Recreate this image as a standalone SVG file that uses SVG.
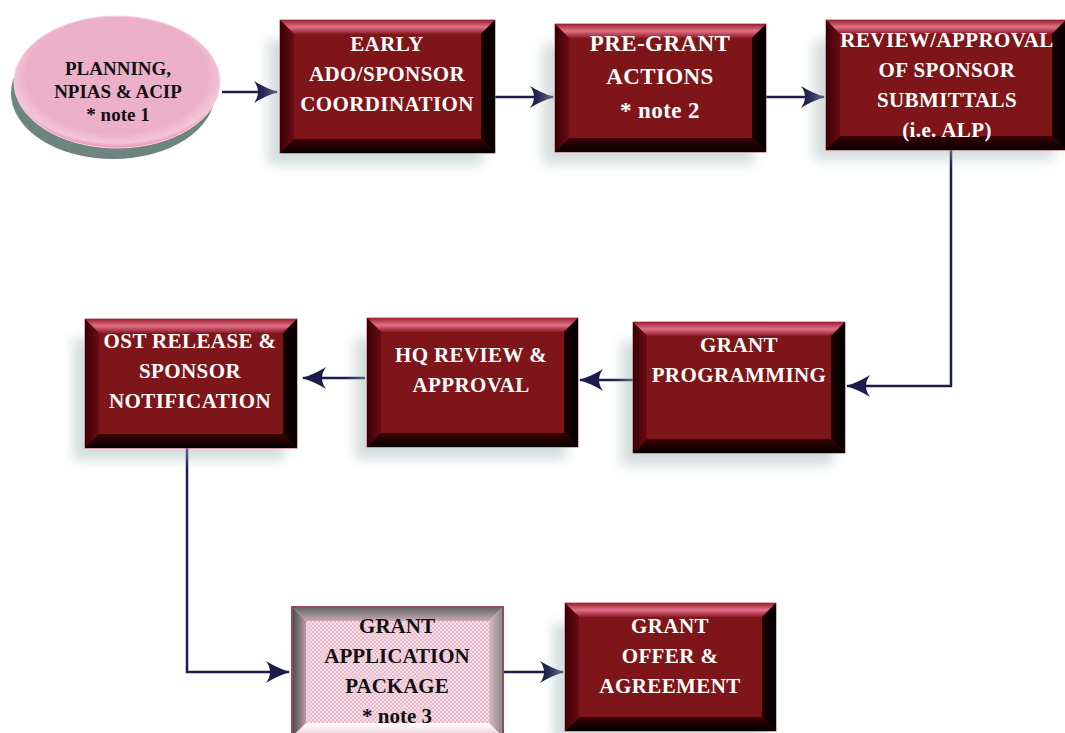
<svg xmlns="http://www.w3.org/2000/svg" width="1065" height="733" viewBox="0 0 1065 733">
<defs>
<linearGradient id="gTop" x1="0" y1="0" x2="0" y2="1">
<stop offset="0" stop-color="#9a2030"/><stop offset="0.5" stop-color="#e27088"/><stop offset="1" stop-color="#8c1a26"/>
</linearGradient>
<linearGradient id="gLeft" x1="0" y1="0" x2="1" y2="0">
<stop offset="0" stop-color="#3a0006"/><stop offset="1" stop-color="#6a0c14"/>
</linearGradient>
<linearGradient id="gRight" x1="0" y1="0" x2="1" y2="0">
<stop offset="0" stop-color="#1a0000"/><stop offset="1" stop-color="#000000"/>
</linearGradient>
<linearGradient id="gBot" x1="0" y1="0" x2="0" y2="1">
<stop offset="0" stop-color="#3a0006"/><stop offset="1" stop-color="#050000"/>
</linearGradient>
<linearGradient id="pTop" x1="0" y1="0" x2="0" y2="1">
<stop offset="0" stop-color="#6a6a6a"/><stop offset="1" stop-color="#c8a8b4"/>
</linearGradient>
<linearGradient id="pLeft" x1="0" y1="0" x2="1" y2="0">
<stop offset="0" stop-color="#505050"/><stop offset="1" stop-color="#b89aa6"/>
</linearGradient>
<linearGradient id="pRight" x1="0" y1="0" x2="1" y2="0">
<stop offset="0" stop-color="#d8b8c4"/><stop offset="1" stop-color="#8a8a8a"/>
</linearGradient>
<linearGradient id="pBot" x1="0" y1="0" x2="0" y2="1">
<stop offset="0" stop-color="#ffffff"/><stop offset="1" stop-color="#f0d0dc"/>
</linearGradient>
<pattern id="dots" width="4" height="4" patternUnits="userSpaceOnUse">
<rect width="4" height="4" fill="#f6dce6"/>
<circle cx="1" cy="1" r="1" fill="#e6b2c6"/>
<circle cx="3" cy="3" r="1" fill="#e6b2c6"/>
</pattern>
<radialGradient id="ellG" cx="0.5" cy="0.45" r="0.55">
<stop offset="0.8" stop-color="#ecb0c9"/><stop offset="0.93" stop-color="#f3c6d6"/><stop offset="1" stop-color="#f08cb0"/>
</radialGradient>
<filter id="blur" x="-20%" y="-20%" width="140%" height="140%"><feGaussianBlur stdDeviation="6"/></filter>
<marker id="arr" viewBox="0 0 24 24" refX="23" refY="12" markerWidth="24" markerHeight="24" markerUnits="userSpaceOnUse" orient="auto">
<path d="M0,1 Q11,8 24,12 Q11,16 0,23 Q8,12 0,1 Z" fill="#1c1c4c"/>
</marker>
</defs>
<style>
.face{fill:#7e1519;stroke:#c45a6a;stroke-width:1}
.t{fill:url(#gTop)}.l{fill:url(#gLeft)}.r{fill:url(#gRight)}.b{fill:url(#gBot)}
.pt{fill:url(#pTop)}.pl{fill:url(#pLeft)}.pr{fill:url(#pRight)}.pb{fill:url(#pBot)}
.sh{fill:#9fb3b3;opacity:0.45;filter:url(#blur)}
.w{font-weight:bold;font-size:21px;fill:#ffffff;text-anchor:middle;letter-spacing:0.4px}
.k{font-weight:bold;font-size:19px;fill:#111111;text-anchor:middle}
.c{fill:none;stroke:#1c1c4c;stroke-width:2.5;marker-end:url(#arr)}
</style>

<g id="connectors">
<path class="c" d="M222,92 H277"/>
<path class="c" d="M495,97 H553"/>
<path class="c" d="M766,97 H824"/>
<path class="c" d="M951,150 V386 H847"/>
<path class="c" d="M633,380 H580"/>
<path class="c" d="M365,378 H303"/>
<path class="c" d="M187,448 V672 H289"/>
<path class="c" d="M503,672 H563"/>
</g>

<g font-family="Liberation Serif, Times New Roman, serif">
<g id="planning">
<ellipse cx="113" cy="93" rx="102" ry="66" fill="#6d847f"/>
<ellipse cx="117" cy="82" rx="103" ry="66" fill="url(#ellG)"/>
<ellipse cx="117" cy="82" rx="103" ry="66" fill="none" stroke="#f6d4e0" stroke-width="1"/>
<text class="k" x="118" y="75">PLANNING,</text>
<text class="k" x="118" y="98">NPIAS &amp; ACIP</text>
<text class="k" x="118" y="121">* note 1</text>
</g>

<g id="early" transform="translate(280,20)">
<rect class="sh" x="-12" y="20" width="215" height="125"/>
<rect class="face" width="215" height="133"/>
<polygon class="t" points="0,0 215,0 201,14 14,14"/>
<polygon class="l" points="0,0 14,14 14,119 0,133"/>
<polygon class="r" points="215,0 215,133 201,119 201,14"/>
<polygon class="b" points="0,133 14,119 201,119 215,133"/>
<text class="w" x="107" y="31">EARLY</text>
<text class="w" x="107" y="61">ADO/SPONSOR</text>
<text class="w" x="107" y="91">COORDINATION</text>
</g>

<g id="pregrant" transform="translate(555,24)">
<rect class="sh" x="-12" y="20" width="211" height="120"/>
<rect class="face" width="211" height="128"/>
<polygon class="t" points="0,0 211,0 197,14 14,14"/>
<polygon class="l" points="0,0 14,14 14,114 0,128"/>
<polygon class="r" points="211,0 211,128 197,114 197,14"/>
<polygon class="b" points="0,128 14,114 197,114 211,128"/>
<text class="w" x="105" y="27" style="font-size:23px">PRE-GRANT</text>
<text class="w" x="105" y="60" style="font-size:23px">ACTIONS</text>
<text class="w" x="105" y="94" style="font-size:23px">* note 2</text>
</g>

<g id="review" transform="translate(826,20)">
<rect class="sh" x="-12" y="20" width="240" height="120"/>
<rect class="face" width="240" height="130"/>
<polygon class="t" points="0,0 240,0 226,14 14,14"/>
<polygon class="l" points="0,0 14,14 14,116 0,130"/>
<polygon class="r" points="240,0 240,130 226,116 226,14"/>
<polygon class="b" points="0,130 14,116 226,116 240,130"/>
<text class="w" x="121" y="27">REVIEW/APPROVAL</text>
<text class="w" x="121" y="57">OF SPONSOR</text>
<text class="w" x="121" y="87">SUBMITTALS</text>
<text class="w" x="121" y="117">(i.e. ALP)</text>
</g>

<g id="grantprog" transform="translate(633,322)">
<rect class="sh" x="-12" y="20" width="212" height="123"/>
<rect class="face" width="212" height="131"/>
<polygon class="t" points="0,0 212,0 198,14 14,14"/>
<polygon class="l" points="0,0 14,14 14,117 0,131"/>
<polygon class="r" points="212,0 212,131 198,117 198,14"/>
<polygon class="b" points="0,131 14,117 198,117 212,131"/>
<text class="w" x="106" y="30">GRANT</text>
<text class="w" x="106" y="60">PROGRAMMING</text>
</g>

<g id="hqreview" transform="translate(367,318)">
<rect class="sh" x="-12" y="20" width="211" height="121"/>
<rect class="face" width="211" height="129"/>
<polygon class="t" points="0,0 211,0 197,14 14,14"/>
<polygon class="l" points="0,0 14,14 14,115 0,129"/>
<polygon class="r" points="211,0 211,129 197,115 197,14"/>
<polygon class="b" points="0,129 14,115 197,115 211,129"/>
<text class="w" x="104" y="44">HQ REVIEW &amp;</text>
<text class="w" x="104" y="74">APPROVAL</text>
</g>

<g id="ostrelease" transform="translate(85,319)">
<rect class="sh" x="-12" y="20" width="212" height="121"/>
<rect class="face" width="212" height="129"/>
<polygon class="t" points="0,0 212,0 198,14 14,14"/>
<polygon class="l" points="0,0 14,14 14,115 0,129"/>
<polygon class="r" points="212,0 212,129 198,115 198,14"/>
<polygon class="b" points="0,129 14,115 198,115 212,129"/>
<text class="w" x="105" y="29">OST RELEASE &amp;</text>
<text class="w" x="105" y="59">SPONSOR</text>
<text class="w" x="105" y="89">NOTIFICATION</text>
</g>

<g id="grantapp" transform="translate(292,607)">
<rect width="211" height="130" fill="url(#dots)" stroke="#9a4a5c" stroke-width="2"/>
<polygon class="pt" points="1,1 210,1 197,14 14,14"/>
<polygon class="pl" points="1,1 14,14 14,116 1,129"/>
<polygon class="pr" points="210,1 210,129 197,116 197,14"/>
<polygon class="pb" points="1,129 14,116 197,116 210,129"/>
<text class="k" x="105" y="26" style="font-size:21px">GRANT</text>
<text class="k" x="105" y="56" style="font-size:21px">APPLICATION</text>
<text class="k" x="105" y="86" style="font-size:21px">PACKAGE</text>
<text class="k" x="105" y="116" style="font-size:21px">* note 3</text>
</g>

<g id="grantoffer" transform="translate(565,603)">
<rect class="sh" x="-12" y="20" width="211" height="120"/>
<rect class="face" width="211" height="128"/>
<polygon class="t" points="0,0 211,0 197,14 14,14"/>
<polygon class="l" points="0,0 14,14 14,114 0,128"/>
<polygon class="r" points="211,0 211,128 197,114 197,14"/>
<polygon class="b" points="0,128 14,114 197,114 211,128"/>
<text class="w" x="105" y="30">GRANT</text>
<text class="w" x="105" y="60">OFFER &amp;</text>
<text class="w" x="105" y="90">AGREEMENT</text>
</g>
</g>
</svg>
